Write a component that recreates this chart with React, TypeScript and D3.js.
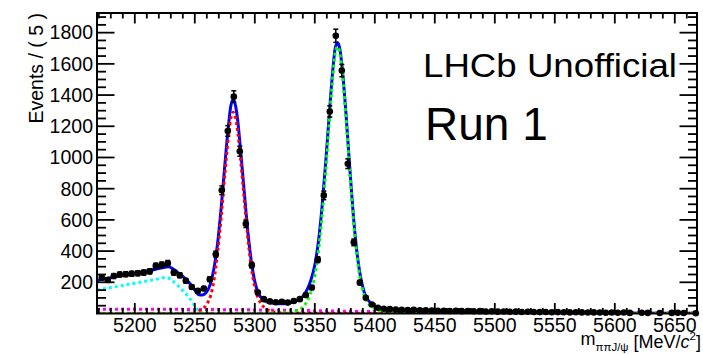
import React from "react";
import * as d3 from "d3";

// ---------- data ----------
const binCenters: number[] = [
  5172.5, 5177.5, 5182.5, 5187.5, 5192.5, 5197.5, 5202.5, 5207.5, 5212.5, 5217.5,
  5222.5, 5227.5, 5232.5, 5237.5, 5242.5, 5247.5, 5252.5, 5257.5, 5262.5, 5267.5,
  5272.5, 5277.5, 5282.5, 5287.5, 5292.5, 5297.5, 5302.5, 5307.5, 5312.5, 5317.5,
  5322.5, 5327.5, 5332.5, 5337.5, 5342.5, 5347.5, 5352.5, 5357.5, 5362.5, 5367.5,
  5372.5, 5377.5, 5382.5, 5387.5, 5392.5, 5397.5, 5402.5, 5407.5, 5412.5, 5417.5,
  5422.5, 5427.5, 5432.5, 5437.5, 5442.5, 5447.5, 5452.5, 5457.5, 5462.5, 5467.5,
  5472.5, 5477.5, 5482.5, 5487.5, 5492.5, 5497.5, 5502.5, 5507.5, 5512.5, 5517.5,
  5522.5, 5527.5, 5532.5, 5537.5, 5542.5, 5547.5, 5552.5, 5557.5, 5562.5, 5567.5,
  5572.5, 5577.5, 5582.5, 5587.5, 5592.5, 5597.5, 5602.5, 5607.5, 5612.5, 5617.5,
  5622.5, 5627.5, 5632.5, 5637.5, 5642.5, 5647.5, 5652.5, 5657.5, 5662.5, 5667.5,
];
const binCounts: number[] = [
  230, 215, 240, 250, 252, 255, 258, 262, 270, 305,
  312, 322, 262, 245, 210, 170, 145, 160, 220, 380,
  790, 1170, 1390, 1040, 575, 310, 135, 92, 78, 72,
  75, 70, 80, 92, 118, 166, 345, 757, 1295, 1780,
  1557, 960, 456, 198, 101, 58, 37, 30, 28, 25,
  24, 22, 24, 20, 21, 19, 18, 17, 16, 17,
  15, 16, 14, 15, 13, 14, 12, 13, 11, 12,
  10, 11, 10, 9, 10, 8, 9, 8, 7, 8,
  7, 6, 7, 6, 5, 6, 5, 6, 4, 0,
  5, 4, 0, 3, 0, 4, 5, 3, 0, 2,
];

// total fit (blue)
const totalMass: number[] = [
  5168.5, 5175, 5180, 5185, 5190, 5195, 5200, 5205, 5210, 5215, 5220, 5225, 5228, 5232, 5236,
  5240, 5245, 5250, 5253, 5256, 5260, 5263, 5266, 5269, 5272, 5275, 5278, 5280, 5282, 5284,
  5286, 5288, 5291, 5294, 5297, 5300, 5303, 5306, 5310, 5315, 5320, 5325, 5330, 5335, 5340,
  5344, 5347, 5350, 5353, 5356, 5359, 5362, 5365, 5367, 5369, 5371, 5373, 5376, 5379, 5382,
  5385, 5388, 5391, 5395, 5400, 5405, 5410, 5420, 5440, 5470, 5500, 5550, 5600, 5668.5,
];
const totalVals: number[] = [
  212, 222, 230, 238, 245, 252, 258, 265, 272, 280, 288, 297, 299, 285, 262,
  238, 200, 150, 122, 118, 140, 190, 290, 450, 680, 950, 1200, 1330, 1370, 1330,
  1220, 1060, 800, 540, 340, 205, 130, 95, 75, 65, 62, 63, 68, 82, 110,
  160, 220, 310, 460, 680, 960, 1270, 1560, 1700, 1735, 1690, 1560, 1280, 950, 640,
  400, 240, 140, 80, 48, 33, 25, 18, 12, 8, 6, 4, 3, 2,
];

// B0 signal (red dotted)
const b0Mass: number[] = [
  5168.5, 5230, 5245, 5250, 5255, 5260, 5263, 5266, 5269, 5272, 5275, 5278, 5280, 5282, 5284,
  5286, 5288, 5291, 5294, 5297, 5300, 5303, 5306, 5310, 5315, 5320, 5330, 5668.5,
];
const b0Vals: number[] = [
  0, 0, 2, 6, 22, 60, 110, 215, 390, 620, 890, 1130, 1250, 1290, 1255,
  1150, 1000, 750, 500, 300, 170, 95, 55, 28, 12, 5, 1, 0,
];

// Bs signal (green dotted)
const bsMass: number[] = [
  5168.5, 5300, 5320, 5330, 5335, 5340, 5344, 5347, 5350, 5353, 5356, 5359, 5362, 5365, 5367,
  5369, 5371, 5373, 5376, 5379, 5382, 5385, 5388, 5391, 5395, 5400, 5405, 5410, 5420, 5440, 5668.5,
];
const bsVals: number[] = [
  0, 2, 5, 10, 18, 40, 85, 145, 240, 395, 620, 900, 1220, 1520, 1670,
  1710, 1660, 1530, 1250, 920, 610, 375, 215, 120, 60, 30, 15, 8, 3, 0, 0,
];

// partially reconstructed background (cyan dotted)
const partMass: number[] = [5168.5, 5180, 5190, 5200, 5210, 5220, 5226, 5230, 5235, 5240, 5245, 5250, 5253, 5256, 5260];
const partVals: number[] = [150, 166, 180, 194, 208, 222, 232, 218, 185, 147, 105, 50, 20, 3, 0];

// combinatorial background (magenta dotted)
const combMass: number[] = [5168.5, 5250, 5300, 5350, 5400, 5450, 5500, 5668.5];
const combVals: number[] = [28, 26, 23, 18, 12, 8, 5, 2];

// other background (yellow dashed)
const otherMass: number[] = [5168.5, 5668.5];
const otherVals: number[] = [1.5, 1.5];

const yMajorTicks: number[] = [200, 400, 600, 800, 1000, 1200, 1400, 1600, 1800];
const xMajorTicks: number[] = [5200, 5250, 5300, 5350, 5400, 5450, 5500, 5550, 5600, 5650];

// ---------- layout ----------
const W = 703;
const H = 354;
const L = 97;
const R = 697;
const T = 13;
const B = 313.5;
const FONT = "'Liberation Sans', Arial, Helvetica, sans-serif";

export default function App() {
  const x = d3.scaleLinear().domain([5168.5, 5668.5]).range([L, R]);
  const y = d3.scaleLinear().domain([0, 1926]).range([B, T]);

  const mk = (ms: number[], vs: number[]) =>
    d3
      .line<number>()
      .x((_, i) => x(ms[i]))
      .y((v) => y(v))
      .curve(d3.curveMonotoneX)(vs) || "";

  const yMinor = d3.range(50, 1926, 50).filter((v) => v % 200 !== 0);
  const xMinor = d3.range(5170, 5668.5, 10).filter((v) => v % 50 !== 0);

  const yMajLen = 17.5;
  const yMinLen = 9;
  const xMajLen = 10.5;
  const xMinLen = 5.5;

  const points = binCenters
    .map((m, i) => ({ m, n: binCounts[i] }))
    .filter((d) => d.n > 0);

  return (
    <svg width={W} height={H} style={{ position: "absolute", left: 0, top: 0, background: "#fff" }}>
      <defs>
        <clipPath id="plotclip">
          <rect x={L} y={T} width={R - L} height={B - T} />
        </clipPath>
      </defs>
      <rect x={0} y={0} width={W} height={H} fill="#fff" />

      {/* curves */}
      <g clipPath="url(#plotclip)" fill="none">
        <path d={mk(otherMass, otherVals)} stroke="#f0b400" strokeWidth={3} strokeDasharray="6,4" />
        <path d={mk(combMass, combVals)} stroke="#ff00ff" strokeWidth={3} strokeDasharray="3,3" />
        <path d={mk(partMass, partVals)} stroke="#00ffff" strokeWidth={3} strokeDasharray="3,3" />
        <path d={mk(totalMass, totalVals)} stroke="#0000ff" strokeWidth={3} />
        <path d={mk(b0Mass, b0Vals)} stroke="#ff0000" strokeWidth={3} strokeDasharray="3,3" />
        <path d={mk(bsMass, bsVals)} stroke="#00ff00" strokeWidth={3} strokeDasharray="3,3" />
      </g>

      {/* data points */}
      <g>
        {points.map((d, i) => {
          const e = Math.sqrt(d.n);
          const cx = x(d.m);
          const y1 = y(d.n + e);
          const y0 = y(Math.max(0, d.n - e));
          return (
            <g key={i}>
              <line x1={cx} x2={cx} y1={y1} y2={y0} stroke="#000" strokeWidth={1.5} />
              <line x1={cx - 2.5} x2={cx + 2.5} y1={y1} y2={y1} stroke="#000" strokeWidth={1.5} />
              <line x1={cx - 2.5} x2={cx + 2.5} y1={y0} y2={y0} stroke="#000" strokeWidth={1.5} />
              <circle cx={cx} cy={y(d.n)} r={3.3} fill="#000" />
            </g>
          );
        })}
      </g>

      {/* frame */}
      <rect x={L} y={T} width={R - L} height={B - T} fill="none" stroke="#000" strokeWidth={2} />

      {/* ticks */}
      <g stroke="#000" strokeWidth={1.8}>
        {yMajorTicks.map((v) => (
          <g key={"ym" + v}>
            <line x1={L} x2={L + yMajLen} y1={y(v)} y2={y(v)} />
            <line x1={R} x2={R - yMajLen} y1={y(v)} y2={y(v)} />
          </g>
        ))}
        {yMinor.map((v) => (
          <g key={"yn" + v}>
            <line x1={L} x2={L + yMinLen} y1={y(v)} y2={y(v)} />
            <line x1={R} x2={R - yMinLen} y1={y(v)} y2={y(v)} />
          </g>
        ))}
        {xMajorTicks.map((v) => (
          <g key={"xm" + v}>
            <line x1={x(v)} x2={x(v)} y1={B} y2={B - xMajLen} />
            <line x1={x(v)} x2={x(v)} y1={T} y2={T + xMajLen} />
          </g>
        ))}
        {xMinor.map((v) => (
          <g key={"xn" + v}>
            <line x1={x(v)} x2={x(v)} y1={B} y2={B - xMinLen} />
            <line x1={x(v)} x2={x(v)} y1={T} y2={T + xMinLen} />
          </g>
        ))}
      </g>

      {/* tick labels */}
      <g fontFamily={FONT} fontSize={19.5} fill="#000">
        {yMajorTicks.map((v) => (
          <text key={"yl" + v} x={93} y={y(v)} dy="0.35em" textAnchor="end">
            {v}
          </text>
        ))}
        {xMajorTicks.map((v) => (
          <text key={"xl" + v} x={x(v)} y={332} textAnchor="middle">
            {v}
          </text>
        ))}
      </g>

      {/* axis titles */}
      <text
        transform={`translate(42.5, ${T}) rotate(-90)`}
        textAnchor="end"
        fontFamily={FONT}
        fontSize={19.5}
        fill="#000"
      >
        Events / ( 5 )
      </text>
      <text x={701} y={348} textAnchor="end" fontFamily={FONT} fontSize={18} fill="#000">
        <tspan dy={-3}>m</tspan>
        <tspan fontSize={11.5} dy={5.5}>ππJ/ψ</tspan>
        <tspan dy={-2.5}> [MeV/</tspan>
        <tspan fontStyle="italic">c</tspan>
        <tspan fontSize={11.5} dy={-8}>2</tspan>
        <tspan dy={8}>]</tspan>
      </text>

      {/* annotations */}
      <text x={423} y={77} fontFamily={FONT} fontSize={33} fill="#000" textLength={254} lengthAdjust="spacingAndGlyphs">
        LHCb Unofficial
      </text>
      <text x={425} y={140} fontFamily={FONT} fontSize={46} fill="#000">
        Run 1
      </text>
    </svg>
  );
}
